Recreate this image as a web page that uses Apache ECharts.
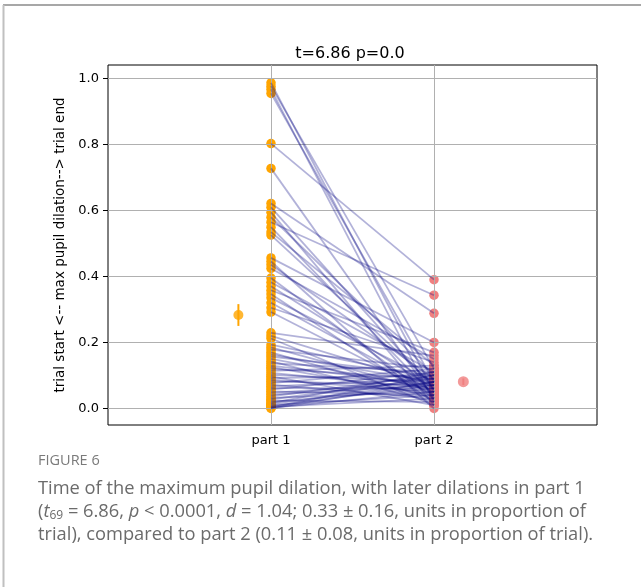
<!DOCTYPE html>
<html><head><meta charset="utf-8">
<script src="https://cdn.jsdelivr.net/npm/echarts@6/dist/echarts.min.js"></script>
<style>html,body{margin:0;padding:0;background:#fff}#c{width:641px;height:587px}</style>
</head><body><div id="c"></div>
<script>
const categories = ['part 1', 'part 2'];
const categoryX = [1, 2];
const part1 = [
  0.986, 0.976, 0.966, 0.954, 0.802, 0.727,
  0.621, 0.609, 0.594, 0.579, 0.564, 0.549, 0.534, 0.525,
  0.456, 0.445, 0.435, 0.424,
  0.395, 0.382, 0.370, 0.358, 0.347, 0.335, 0.320, 0.305, 0.292,
  0.229, 0.220, 0.212,
  0.193, 0.185, 0.178, 0.170, 0.163, 0.157, 0.150, 0.143, 0.137, 0.130,
  0.125, 0.120, 0.114, 0.108, 0.102, 0.097, 0.092, 0.087, 0.082, 0.077,
  0.072, 0.067, 0.062, 0.057, 0.052, 0.047, 0.042, 0.037, 0.032, 0.028,
  0.024, 0.020, 0.016, 0.013, 0.010, 0.007, 0.005, 0.003, 0.002, 0.000
];
const part2 = [
  0.050, 0.120, 0.020, 0.080, 0.390, 0.030,
  0.288, 0.060, 0.010, 0.100, 0.343, 0.040, 0.130, 0.070,
  0.200, 0.000, 0.090, 0.150,
  0.030, 0.110, 0.060, 0.170, 0.020, 0.080, 0.050, 0.140, 0.040,
  0.160, 0.070, 0.010,
  0.090, 0.050, 0.120, 0.030, 0.080, 0.100, 0.060, 0.020, 0.110, 0.070,
  0.040, 0.090, 0.130, 0.060, 0.080, 0.010, 0.100, 0.050, 0.070, 0.120,
  0.030, 0.090, 0.060, 0.110, 0.040, 0.080, 0.070, 0.100, 0.050, 0.090,
  0.020, 0.060, 0.110, 0.080, 0.040, 0.070, 0.030, 0.100, 0.050, 0.080
];
const meanX = [0.8, 2.18];
const means = [0.283, 0.081];
const errs = [0.033, 0.010];
const yTicks = [0, 0.2, 0.4, 0.6, 0.8, 1.0];
const titleText = 't=6.86 p=0.0';
const yName = 'trial start <-- max pupil dilation--> trial end';

const C1 = '#FFA500', C2 = '#F08080', LINE = '#000080', GRIDC = '#b0b0b0';
const F = 'DejaVu Sans';

const chart = echarts.init(document.getElementById('c'), null, {renderer: 'canvas'});

const pairLines = part1.map((v, i) => ({coords: [[categoryX[0], v], [categoryX[1], part2[i]]]}));

const gridMarks = yTicks.map(v => ({yAxis: v})).concat(categoryX.map(x => ({xAxis: x})));

const capBase = {fontFamily: 'Open Sans', fontSize: 18.3, fill: '#6b6b6b'};

chart.setOption({
  animation: false,
  backgroundColor: '#fff',
  title: {
    text: titleText, left: 345, top: 41, textAlign: 'center',
    textStyle: {fontFamily: F, fontSize: 16, fontWeight: 'normal', color: '#000'}
  },
  grid: {left: 108, top: 65, right: 44, bottom: 162, show: true, borderColor: '#000', borderWidth: 1, backgroundColor: 'transparent'},
  xAxis: {
    type: 'value', min: 0, max: 3, interval: 1,
    axisLine: {show: false},
    splitLine: {show: false},
    axisTick: {show: true, inside: false, length: 5, lineStyle: {color: '#000'}, customValues: categoryX},
    axisLabel: {
      customValues: categoryX, margin: 9,
      fontFamily: F, fontSize: 13, color: '#000',
      formatter: v => { const k = categoryX.indexOf(v); return k >= 0 ? categories[k] : ''; }
    }
  },
  yAxis: {
    type: 'value', min: -0.05, max: 1.04,
    axisLine: {show: false},
    splitLine: {show: false},
    axisTick: {show: true, length: 5, lineStyle: {color: '#000'}, customValues: yTicks},
    axisLabel: {customValues: yTicks, margin: 9, fontFamily: F, fontSize: 13, color: '#000', formatter: v => v.toFixed(1)},
    name: yName, nameLocation: 'middle', nameRotate: 90, nameGap: 32,
    nameTextStyle: {fontFamily: F, fontSize: 13.5, color: '#000'}
  },
  series: [
    {
      type: 'scatter', name: 'part 1', z: 1,
      data: part1.map(v => [categoryX[0], v]),
      symbolSize: 9.5, itemStyle: {color: C1, opacity: 1},
      markLine: {
        silent: true, symbol: 'none', z: 2, animation: false,
        label: {show: false},
        lineStyle: {color: GRIDC, width: 1, type: 'solid'},
        emphasis: {disabled: true},
        data: gridMarks
      }
    },
    {
      type: 'scatter', name: 'part 2', z: 1,
      data: part2.map(v => [categoryX[1], v]),
      symbolSize: 9.5, itemStyle: {color: C2, opacity: 1}
    },
    {
      type: 'lines', coordinateSystem: 'cartesian2d', z: 3,
      polyline: false, silent: true,
      lineStyle: {color: LINE, width: 1.8, opacity: 0.3},
      data: pairLines
    },
    {
      type: 'line', z: 4, symbol: 'none', silent: true,
      lineStyle: {color: C1, width: 2},
      data: [[meanX[0], means[0] - errs[0]], [meanX[0], means[0] + errs[0]]]
    },
    {
      type: 'line', z: 4, symbol: 'none', silent: true,
      lineStyle: {color: C2, width: 2},
      data: [[meanX[1], means[1] - errs[1]], [meanX[1], means[1] + errs[1]]]
    },
    {
      type: 'scatter', z: 5, symbolSize: 10,
      itemStyle: {color: C1},
      data: [[meanX[0], means[0]]]
    },
    {
      type: 'scatter', z: 5, symbolSize: 11,
      itemStyle: {color: C2},
      data: [[meanX[1], means[1]]]
    }
  ],
  graphic: [
    {type: 'line', shape: {x1: 3, y1: 5, x2: 641, y2: 5}, style: {stroke: '#8a8a8a', lineWidth: 1.5}, silent: true},
    {type: 'line', shape: {x1: 3.5, y1: 5, x2: 3.5, y2: 587}, style: {stroke: '#c0c0c0', lineWidth: 2}, silent: true},
    {type: 'text', left: 38, top: 453, style: {text: 'FIGURE 6', fontFamily: 'Open Sans', fontSize: 14.5, fill: '#7a7a7a'}},
    {type: 'text', left: 38, top: 480, style: Object.assign({text: 'Time of the maximum pupil dilation, with later dilations in part 1'}, capBase)},
    {type: 'text', left: 38, top: 503, style: Object.assign({}, capBase, {
      text: '({i|t}{s|69} = 6.86, {i|p} < 0.0001, {i|d} = 1.04; 0.33 ± 0.16, units in proportion of',
      rich: {
        i: {fontFamily: 'Open Sans', fontSize: 18.3, fontStyle: 'italic', fill: '#6b6b6b'},
        s: {fontFamily: 'Open Sans', fontSize: 12, fill: '#6b6b6b', verticalAlign: 'bottom', padding: [8, 0, 0, 0]}
      }
    })},
    {type: 'text', left: 38, top: 526, style: Object.assign({text: 'trial), compared to part 2 (0.11 ± 0.08, units in proportion of trial).'}, capBase)}
  ]
});
</script>
</body></html>
